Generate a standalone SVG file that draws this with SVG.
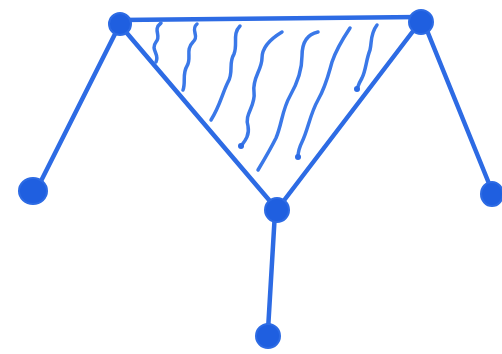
<svg xmlns="http://www.w3.org/2000/svg" width="502" height="354" viewBox="0 0 502 354">
<style>
.e{stroke:#2d6be4;stroke-width:4.5;fill:none;stroke-linecap:round}
.w{stroke:#3a78e8;stroke-width:3.5;fill:none;stroke-linecap:round}
.n{fill:#1f5fe0;stroke:#2d6be4;stroke-width:2}
</style>
<rect width="502" height="354" fill="#ffffff"/>
<g id="connectors">
<path class="e" d="M120 20 L420 17"/>
<path class="e" d="M120 25 L275 207"/>
<path class="e" d="M420 22 L279 207"/>
<path class="e" d="M116 32 L40 183"/>
<path class="e" d="M426 28 L490 186"/>
<path class="e" d="M275 212 L268 330"/>
</g>
<g id="hatching">
<path class="w" d="M161 23 C152 30 162 36 156 42 C150 50 160 54 156 62"/>
<path class="w" d="M197 24 C190 30 200 36 193 42 C185 50 192 58 187 66 C182 74 186 82 183 90"/>
<path class="w" d="M240 26 C232 34 238 44 234 54 C228 64 234 72 228 82 C222 94 220 106 211 120"/>
<path class="w" d="M282 32 C272 38 262 46 262 58 C262 70 252 78 254 92 C256 106 244 114 248 126 C250 136 244 142 241 146"/>
<path class="w" d="M318 32 C308 34 302 42 302 56 C302 70 298 82 290 96 C282 110 282 124 276 138 C270 150 264 160 258 170"/>
<path class="w" d="M350 28 C342 40 336 50 332 62 C328 76 326 86 318 100 C310 114 308 130 302 142 C299 148 298 154 298 157"/>
<path class="w" d="M377 25 C370 34 372 42 370 50 C366 60 366 70 362 78 C359 83 358 86 357 89"/>
<circle cx="241" cy="146" r="3" fill="#2d6be4"/>
<circle cx="298" cy="157" r="3" fill="#2d6be4"/>
<circle cx="357" cy="89" r="3" fill="#2d6be4"/>
</g>
<g id="node-top-left"><circle class="n" cx="120" cy="24" r="11"/></g>
<g id="node-top-right"><circle class="n" cx="421" cy="22" r="12"/></g>
<g id="node-middle"><circle class="n" cx="277" cy="210" r="12"/></g>
<g id="node-left"><ellipse class="n" cx="33" cy="191" rx="14" ry="13"/></g>
<g id="node-right"><ellipse class="n" cx="492" cy="194" rx="11" ry="12"/></g>
<g id="node-bottom"><circle class="n" cx="268" cy="336" r="12"/></g>
</svg>
